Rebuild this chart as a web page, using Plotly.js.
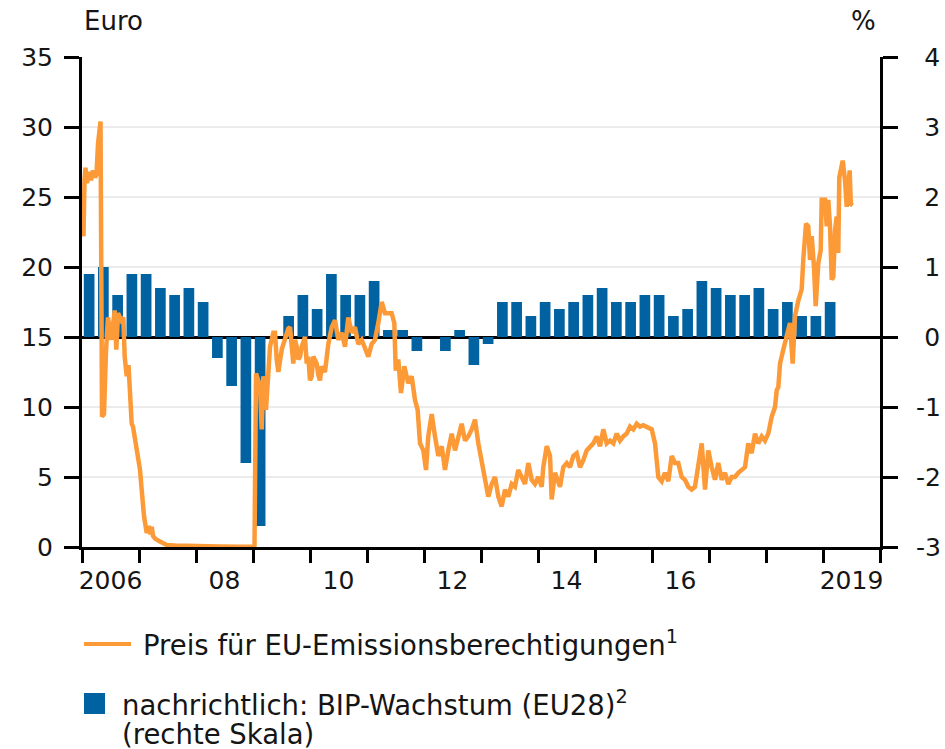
<!DOCTYPE html>
<html>
<head>
<meta charset="utf-8">
<script src="https://cdn.plot.ly/plotly-3.0.1.min.js"></script>
<style>
  html, body { margin: 0; padding: 0; background: #ffffff; }
  #chart { width: 945px; height: 749px; }
</style>
</head>
<body>
<div id="chart"></div>
<script>
// ---- Data ----
// Quarterly GDP growth EU28 (% q/q), right scale
const gdpQuarters = [
  "2006Q1","2006Q2","2006Q3","2006Q4",
  "2007Q1","2007Q2","2007Q3","2007Q4",
  "2008Q1","2008Q2","2008Q3","2008Q4",
  "2009Q1","2009Q2","2009Q3","2009Q4",
  "2010Q1","2010Q2","2010Q3","2010Q4",
  "2011Q1","2011Q2","2011Q3","2011Q4",
  "2012Q1","2012Q2","2012Q3","2012Q4",
  "2013Q1","2013Q2","2013Q3","2013Q4",
  "2014Q1","2014Q2","2014Q3","2014Q4",
  "2015Q1","2015Q2","2015Q3","2015Q4",
  "2016Q1","2016Q2","2016Q3","2016Q4",
  "2017Q1","2017Q2","2017Q3","2017Q4",
  "2018Q1","2018Q2","2018Q3","2018Q4",
  "2019Q1"
];
const gdpGrowth = [
  0.9, 1.0, 0.6, 0.9,
  0.9, 0.7, 0.6, 0.7,
  0.5, -0.3, -0.7, -1.8,
  -2.7, 0.0, 0.3, 0.6,
  0.4, 0.9, 0.6, 0.6,
  0.8, 0.1, 0.1, -0.2,
  0.0, -0.2, 0.1, -0.4,
  -0.1, 0.5, 0.5, 0.3,
  0.5, 0.4, 0.5, 0.6,
  0.7, 0.5, 0.5, 0.6,
  0.6, 0.3, 0.4, 0.8,
  0.7, 0.6, 0.6, 0.7,
  0.4, 0.5, 0.3, 0.3,
  0.5
];

// EU emission allowance price (Euro), left scale; x in decimal years
const priceYear = [
  2006.000,2006.026,2006.044,2006.061,2006.088,2006.123,2006.158,2006.193,2006.228,2006.254,
  2006.281,2006.325,2006.351,2006.386,2006.421,2006.456,2006.514,2006.574,2006.602,2006.632,
  2006.689,2006.725,2006.749,2006.784,2006.816,2006.842,2006.872,2006.895,2006.930,2006.956,
  2006.988,2007.018,2007.047,2007.070,2007.088,2007.135,2007.175,2007.202,2007.223,2007.246,
  2007.281,2007.368,2007.486,2007.632,2007.837,2008.070,2008.421,2008.772,2009.026,2009.053,
  2009.093,2009.123,2009.153,2009.181,2009.228,2009.268,2009.298,2009.356,2009.386,2009.416,
  2009.444,2009.504,2009.561,2009.591,2009.619,2009.649,2009.679,2009.707,2009.737,2009.767,
  2009.795,2009.825,2009.854,2009.882,2009.912,2009.942,2009.970,2010.000,2010.030,2010.058,
  2010.088,2010.118,2010.146,2010.175,2010.205,2010.263,2010.321,2010.381,2010.439,2010.496,
  2010.556,2010.614,2010.672,2010.732,2010.789,2010.847,2010.907,2010.965,2011.023,2011.082,
  2011.140,2011.198,2011.258,2011.316,2011.374,2011.433,2011.479,2011.504,2011.549,2011.596,
  2011.654,2011.725,2011.784,2011.842,2011.889,2011.930,2011.988,2012.035,2012.075,2012.135,
  2012.193,2012.251,2012.311,2012.368,2012.426,2012.486,2012.544,2012.602,2012.661,2012.719,
  2012.777,2012.837,2012.895,2012.953,2013.012,2013.070,2013.128,2013.188,2013.246,2013.304,
  2013.363,2013.421,2013.479,2013.539,2013.596,2013.654,2013.714,2013.772,2013.830,2013.889,
  2013.947,2014.005,2014.065,2014.093,2014.153,2014.211,2014.240,2014.298,2014.386,2014.444,
  2014.504,2014.561,2014.619,2014.679,2014.737,2014.795,2014.854,2014.912,2014.970,2015.030,
  2015.088,2015.146,2015.205,2015.263,2015.321,2015.381,2015.439,2015.496,2015.556,2015.614,
  2015.672,2015.732,2015.789,2015.847,2015.907,2015.995,2016.053,2016.111,2016.170,2016.228,
  2016.286,2016.346,2016.404,2016.461,2016.521,2016.579,2016.637,2016.696,2016.754,2016.812,
  2016.872,2016.930,2016.988,2017.047,2017.105,2017.163,2017.223,2017.281,2017.339,2017.398,
  2017.456,2017.514,2017.574,2017.632,2017.689,2017.749,2017.807,2017.865,2017.925,2017.982,
  2018.040,2018.100,2018.158,2018.188,2018.216,2018.246,2018.304,2018.363,2018.421,2018.468,
  2018.509,2018.567,2018.626,2018.654,2018.702,2018.742,2018.772,2018.802,2018.842,2018.872,
  2018.918,2018.960,2018.977,2019.035,2019.065,2019.093,2019.123,2019.153,2019.181,2019.211,
  2019.240,2019.268,2019.286,2019.346,2019.386,2019.416,2019.468,2019.488,2019.521
];
const priceEuro = [
  23.0,22.2,26.2,27.1,26.0,26.8,26.2,26.9,26.4,26.6,
  28.8,30.4,9.3,9.5,14.0,16.4,14.8,16.9,14.1,16.7,
  16.2,16.4,13.6,12.2,13.0,10.5,8.8,8.6,7.6,7.0,
  6.2,5.5,4.1,3.0,2.2,1.0,1.5,0.9,1.45,0.8,
  0.6,0.4,0.15,0.1,0.07,0.05,0.03,0.02,0.02,12.4,
  11.8,11.5,8.4,12.2,9.8,12.6,14.3,15.3,15.3,13.4,
  12.5,14.1,15.0,15.3,15.6,15.7,13.8,13.1,14.8,14.3,
  13.4,13.6,14.3,14.8,15.0,13.1,13.6,11.9,12.2,13.6,
  13.4,13.1,12.3,11.9,12.9,12.5,14.5,15.7,16.2,14.8,
  15.3,14.3,16.4,15.3,15.7,14.5,14.8,14.1,13.6,14.5,
  14.8,16.0,17.5,16.7,16.7,16.7,16.0,12.6,13.4,11.0,
  12.9,11.7,12.2,10.5,9.8,7.4,6.9,5.5,7.9,9.5,
  7.9,6.5,7.2,5.5,6.9,8.1,6.9,7.9,8.8,7.6,
  7.9,8.4,9.1,7.4,6.2,4.8,3.6,4.5,5.0,3.6,
  2.9,4.1,3.6,4.5,4.3,5.5,5.0,4.5,6.0,4.8,
  4.5,5.0,4.3,5.7,7.2,6.5,3.4,5.3,4.3,5.7,
  6.0,5.7,6.5,6.7,5.7,6.2,6.9,7.2,7.4,7.9,
  7.2,8.4,7.4,7.6,7.4,8.1,7.6,7.9,8.1,8.6,
  8.4,8.8,8.6,8.7,8.6,8.4,7.4,5.0,4.7,5.3,
  4.7,6.5,6.0,6.0,5.0,4.8,4.3,4.1,4.3,5.7,
  7.4,4.1,6.9,5.7,4.8,6.0,4.8,5.3,4.5,5.0,
  5.0,5.3,5.5,5.7,7.4,6.7,8.1,7.4,7.9,7.6,
  8.1,9.3,10.0,11.2,11.4,13.1,14.1,15.0,16.0,13.1,
  16.5,17.6,18.4,20.5,23.1,22.9,20.5,22.2,20.0,17.2,
  20.3,21.2,24.8,24.8,22.9,24.8,22.9,19.1,19.3,22.6,
  23.6,21.0,26.4,27.6,26.2,24.3,26.9,24.5,24.4
];

// Axis tick labels
const xLabelYears = [2006, 2008, 2010, 2012, 2014, 2016, 2019];
const xLabelText = ["2006", "08", "10", "12", "14", "16", "2019"];
const xTickYears = [2006,2007,2008,2009,2010,2011,2012,2013,2014,2015,2016,2017,2018,2019,2020];
const euroTicks = [0, 5, 10, 15, 20, 25, 30, 35];
const pctTicks = [-3, -2, -1, 0, 1, 2, 3, 4];

// ---- Derived positions ----
const gdpX = gdpQuarters.map(q => {
  const y = parseInt(q.slice(0, 4), 10);
  const k = parseInt(q.slice(5), 10);
  return y + (k - 0.5) / 4;
});
const xLabelPos = xLabelYears.map(y => y + 0.5);
// pad labels without a minus sign so that right-axis labels look right-aligned
const pctText = pctTicks.map(v => (v < 0 ? "-" + Math.abs(v) : "\u2006\u2006" + v));

const BLUE = "#0062a1";
const ORANGE = "#fd9a38";
const TXT = "#151515";
const FONT = "DejaVu Sans, Verdana, sans-serif";
const FS_TICK = 25;
const FS_TEXT = 27.5;

const traces = [
  {
    type: "bar",
    x: gdpX,
    y: gdpGrowth,
    xaxis: "x",
    yaxis: "y",
    marker: { color: BLUE, line: { width: 0 } },
    name: "nachrichtlich: BIP-Wachstum (EU28)",
    showlegend: false,
    hoverinfo: "skip"
  },
  {
    type: "scatter",
    mode: "lines",
    x: priceYear,
    y: priceEuro,
    xaxis: "x",
    yaxis: "y2",
    line: { color: ORANGE, width: 4.5 },
    name: "Preis für EU-Emissionsberechtigungen",
    showlegend: false,
    hoverinfo: "skip"
  }
];

const L = 82, R = 880, T = 57, B = 547;
const px2x = p => (p - L) / (R - L);
const px2y = p => (B - p) / (B - T);

const layout = {
  width: 945,
  height: 749,
  margin: { l: L, r: 945 - R, t: T, b: 749 - B, pad: 0 },
  paper_bgcolor: "#ffffff",
  plot_bgcolor: "#ffffff",
  font: { family: FONT, size: FS_TICK, color: TXT },
  bargap: 0.25,
  showlegend: false,
  xaxis: {
    range: [2006, 2020],
    showgrid: false,
    zeroline: false,
    showline: true,
    linecolor: "#000000",
    linewidth: 3,
    tickmode: "array",
    tickvals: xLabelPos,
    ticktext: xLabelText,
    ticks: "",
    ticklabelstandoff: 9,
    tickfont: { family: FONT, size: FS_TICK, color: TXT },
    minor: {
      tickmode: "array",
      tickvals: xTickYears,
      ticks: "outside",
      ticklen: 13,
      tickwidth: 3,
      tickcolor: "#000000",
      showgrid: false
    },
    fixedrange: true
  },
  yaxis: {
    side: "right",
    range: [-3, 4],
    tickmode: "array",
    tickvals: pctTicks,
    ticktext: pctText,
    ticks: "outside",
    ticklen: 15,
    tickwidth: 3,
    tickcolor: "#000000",
    showline: true,
    linecolor: "#000000",
    linewidth: 3,
    showgrid: true,
    gridcolor: "#ebebeb",
    gridwidth: 2,
    zeroline: true,
    zerolinecolor: "#000000",
    zerolinewidth: 3,
    ticklabelstandoff: 13,
    tickfont: { family: FONT, size: FS_TICK, color: TXT },
    fixedrange: true
  },
  yaxis2: {
    overlaying: "y",
    side: "left",
    anchor: "x",
    range: [0, 35],
    tickmode: "array",
    tickvals: euroTicks,
    ticks: "outside",
    ticklen: 15,
    tickwidth: 3,
    tickcolor: "#000000",
    showline: true,
    linecolor: "#000000",
    linewidth: 3,
    showgrid: false,
    zeroline: false,
    ticklabelstandoff: 6,
    tickfont: { family: FONT, size: FS_TICK, color: TXT },
    fixedrange: true
  },
  shapes: [
    { type: "line", xref: "paper", yref: "paper",
      x0: px2x(84), x1: px2x(131), y0: px2y(644), y1: px2y(644),
      line: { color: ORANGE, width: 4 } },
    { type: "rect", xref: "paper", yref: "paper",
      x0: px2x(84), x1: px2x(105), y0: px2y(693), y1: px2y(714),
      fillcolor: BLUE, line: { width: 0 } }
  ],
  annotations: [
    { text: "Euro", xref: "paper", yref: "paper", x: px2x(82), y: px2y(21),
      xanchor: "left", yanchor: "middle", showarrow: false,
      font: { family: FONT, size: 26, color: TXT } },
    { text: "%", xref: "paper", yref: "paper", x: px2x(878), y: px2y(21),
      xanchor: "right", yanchor: "middle", showarrow: false,
      font: { family: FONT, size: 26, color: TXT } },
    { text: "Preis für EU-Emissionsberechtigungen<sup>1</sup>", xref: "paper", yref: "paper",
      x: px2x(141), y: px2y(643), xanchor: "left", yanchor: "middle", showarrow: false,
      font: { family: FONT, size: FS_TEXT, color: TXT } },
    { text: "nachrichtlich: BIP-Wachstum (EU28)<sup>2</sup>", xref: "paper", yref: "paper",
      x: px2x(120), y: px2y(703), xanchor: "left", yanchor: "middle", showarrow: false,
      font: { family: FONT, size: FS_TEXT, color: TXT } },
    { text: "(rechte Skala)", xref: "paper", yref: "paper",
      x: px2x(120), y: px2y(734), xanchor: "left", yanchor: "middle", showarrow: false,
      font: { family: FONT, size: FS_TEXT, color: TXT } }
  ]
};

Plotly.newPlot("chart", traces, layout, { staticPlot: true, displayModeBar: false });
</script>
</body>
</html>
